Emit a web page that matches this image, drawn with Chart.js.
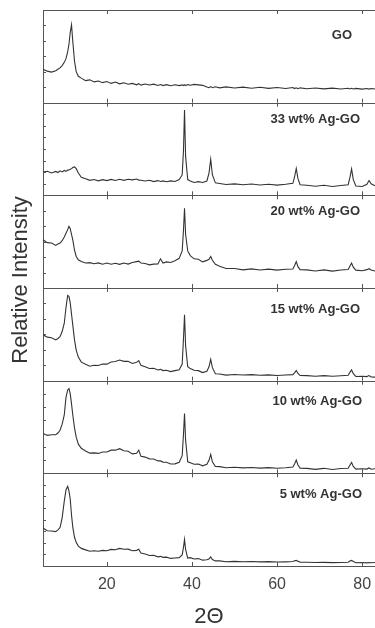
<!DOCTYPE html>
<html>
<head>
<meta charset="utf-8">
<script src="https://cdn.jsdelivr.net/npm/chart.js@4.4.1/dist/chart.umd.min.js"></script>
<style>
  html, body { margin: 0; padding: 0; background: #fff; }
  #wrap { width: 375px; height: 628px; }
</style>
</head>
<body>
<div id="wrap"><canvas id="xrd" width="375" height="628"></canvas></div>
<script>
// 2-theta positions shared by all patterns (denser around the peaks)
const twoTheta = [5, 6, 7, 8, 8.5, 9, 9.5, 10, 10.4, 10.8,
  11.1, 11.4, 11.7, 12, 12.4, 12.8, 13.3, 14, 15, 16,
  17, 18, 19, 20, 21, 22, 23, 24, 25, 26,
  27, 27.5, 28, 29, 30, 31, 32, 32.6, 33.2, 34,
  35, 36, 37, 37.7, 38, 38.25, 38.5, 39, 39.6, 40.5,
  41.5, 42.5, 43.5, 44, 44.4, 44.8, 45.5, 46.5, 48, 50,
  52, 54, 56, 58, 60, 62, 63.7, 64.1, 64.5, 64.9,
  65.4, 67, 69, 71, 73, 75, 76.7, 77.1, 77.5, 77.9,
  78.5, 80, 81.1, 81.6, 82.1, 83];

// relative intensity, each pattern on its own 0-100 panel scale
const go = [36, 34, 33, 34.5, 36, 37.5, 40, 43.5, 47.5, 55,
  63, 76, 84, 66, 45, 33.5, 28.5, 26.5, 23.8, 24.6,
  22.4, 23.4, 21.6, 22.8, 20.8, 22.2, 20.3, 21.4, 19.9, 20.8,
  19.3, 20.5, 18.9, 20.1, 19, 20, 18.5, 19.5, 18.4, 19.4,
  18.3, 19.3, 18.4, 19.2, 18.5, 19.3, 18.4, 19.5, 18.8, 19.7,
  19.2, 18.7, 16.9, 16.2, 17.3, 16.1, 17.1, 16, 17, 15.8,
  16.8, 15.6, 16.6, 15.4, 16.4, 15.3, 16.3, 15.2, 16.1, 15.1,
  16, 15, 15.9, 14.9, 15.7, 14.7, 15.6, 14.8, 15.5, 14.7,
  15.4, 14.6, 15.3, 14.6, 15.2, 14.8];

const ag33 = [25, 26, 24.2, 25.8, 24.6, 26.4, 25.2, 26.8, 25.8, 27.2,
  27.4, 28.2, 28.8, 30, 30.6, 28.8, 24, 19.5, 17.8, 16.2,
  17, 15.6, 16.9, 15.9, 17.2, 16, 17.4, 16.2, 17.3, 16.7,
  17.6, 16.4, 16.2, 15.4, 16.2, 14.8, 15.9, 14.9, 15.6, 14.7,
  15.6, 14.9, 17, 22, 48, 92, 42, 17, 15.5, 13.9,
  14.8, 13.8, 15.5, 24, 39, 22, 13.5, 12.8, 11.7, 12.4,
  11.4, 12.2, 11.2, 12, 11, 11.9, 13, 20, 29, 18,
  11.5, 10.9, 9.8, 10.8, 9.6, 10.6, 11.5, 19, 28.5, 17,
  10, 9.6, 12, 16, 12.5, 10.2];

const ag20 = [52, 49, 48.6, 46, 47.4, 48.5, 51, 55, 59, 63,
  66.5, 64, 58, 52, 41, 34, 30.5, 28.5, 27, 27.4,
  26.2, 27.1, 25.7, 26.9, 25.6, 26.7, 25.5, 26.9, 25.8, 27.5,
  28.5, 29, 27, 26.4, 25, 25.8, 26, 31.5, 27, 28.2,
  27.6, 29.4, 32, 40, 62, 86, 58, 40, 35, 31.5,
  31, 28.2, 29.8, 31, 34, 30, 25.5, 23.4, 21, 21,
  19.6, 20.6, 19.4, 20.4, 19.3, 20.2, 20.5, 24, 28.5, 23,
  19.8, 19.6, 18.4, 19.6, 18.2, 19.4, 20, 23.5, 27, 22.5,
  19.3, 18.6, 19.8, 20.8, 19.4, 18.4];

const ag15 = [49.5, 47, 46.4, 44, 45.5, 47.5, 53, 62, 79, 92,
  91, 84, 72, 60, 44, 33, 25.5, 20, 17.6, 15.6,
  16.6, 16.4, 17.9, 17.8, 20.2, 20.6, 22.2, 20.8, 20.9, 18.6,
  19.8, 21.7, 16.5, 15, 13.1, 13.3, 11.6, 12.2, 10.9, 11.2,
  9.8, 10.8, 11.8, 18, 45, 71, 38, 15, 13, 11.2,
  10.8, 8.7, 10.2, 15, 23, 14, 7.5, 7.2, 6, 6.7,
  6.1, 6.5, 5.8, 6.3, 5.6, 6.1, 6.5, 8.5, 10.9, 7.8,
  5.5, 5.4, 4.8, 5.4, 4.7, 5.3, 5.8, 9, 11.6, 7.5,
  4.5, 4.7, 4.4, 5.5, 4, 3.8];

const ag10 = [43, 41, 41.6, 41.6, 43.5, 46.5, 53, 63, 82, 90,
  91.4, 86, 75, 63, 49, 39, 31.5, 27, 24.2, 21.8,
  22.1, 21.5, 23.1, 23, 25, 25, 26.6, 24.3, 23.9, 21,
  21.6, 25, 18.5, 17.5, 15.6, 15.5, 13.4, 13.4, 12.1, 12,
  10.1, 10.2, 12, 19, 42, 64.5, 36, 12.5, 11.4, 9.8,
  10, 8.1, 9.8, 14, 20.4, 12.5, 7.4, 7.2, 6, 6.5,
  5.9, 6.3, 5.6, 6.2, 5.5, 6, 6.8, 10, 14.3, 9,
  5.6, 5.4, 4.3, 5.4, 4.2, 5.2, 5.5, 8.8, 11.8, 7.5,
  4.6, 4.9, 4.6, 5.8, 4.4, 4.9];

const ag5 = [41, 38, 37.8, 37.1, 39, 41.5, 52, 70, 82, 86,
  81, 72, 55, 42, 31, 25.5, 21.5, 19, 17.4, 16,
  16.4, 15.9, 16.9, 16.5, 17.9, 17.6, 19, 18, 18.2, 16.4,
  16.9, 18, 14, 12.9, 11.4, 11.6, 9.9, 10.4, 9.3, 9.6,
  8.2, 8.6, 9, 12, 20, 28.7, 18, 8.5, 9, 7.6,
  8, 6.3, 6.8, 7.6, 9.7, 7, 5.5, 5.5, 4.6, 5,
  4.6, 4.8, 4.4, 4.7, 4.3, 4.5, 4.8, 5.6, 6, 5.2,
  4.2, 4.1, 3.7, 3.9, 3.6, 3.8, 4, 5.3, 6, 4.8,
  3.5, 3.7, 3.4, 3.8, 3.5, 3.8];

const sampleNames = ['GO', '33 wt% Ag-GO', '20 wt% Ag-GO', '15 wt% Ag-GO', '10 wt% Ag-GO', '5 wt% Ag-GO'];
const patterns = [go, ag33, ag20, ag15, ag10, ag5];
const xTicks = [20, 40, 60, 80];
const yTickDivisions = [6, 8, 6, 6, 7, 8];

// where the sample name sits: px below the panel top, px in from the right edge
const labelTop = [25, 17, 16, 21, 21, 21];
const labelInset = [23, 15, 15, 15, 13, 13];

const FONT = '"Liberation Sans", Arial, sans-serif';
const FRAME = '#555';

// panel scales, built bottom panel first so the stack puts GO on top
const scales = {
  x: {
    type: 'linear', min: 5, max: 83,
    afterBuildTicks: s => { s.ticks = xTicks.map(v => ({ value: v })); },
    afterFit: s => { s.paddingLeft = 0; s.paddingRight = 0; s.height = 62; },
    grid: { display: false, drawTicks: false },
    border: { display: false },
    ticks: { color: '#444', padding: 9, font: { family: FONT, size: 16 } },
    title: { display: true, text: '2Θ', color: '#333', padding: { top: 10, bottom: 0 },
             font: { family: FONT, size: 22, lineHeight: 1 } }
  }
};
for (let i = patterns.length - 1; i >= 0; i--) {
  const n = yTickDivisions[i];
  scales['y' + i] = {
    type: 'linear', position: 'left', stack: 'panels', stackWeight: 1,
    min: 0, max: 100,
    afterBuildTicks: s => {
      const t = [];
      for (let k = 1; k < n; k++) t.push({ value: k * 100 / n });
      s.ticks = t;
    },
    afterFit: s => { s.width = 0; },
    ticks: { display: false },
    grid: { display: false, drawTicks: false },
    border: { display: true, color: FRAME, width: 1 }
  };
}

// frame lines, inward tick marks, sample names and the y title
const panelFrame = {
  id: 'panelFrame',
  afterDraw(chart) {
    const { ctx, chartArea } = chart;
    const xs = chart.scales.x;
    const px = v => Math.round(v) + 0.5;
    ctx.save();
    ctx.strokeStyle = FRAME;
    ctx.lineWidth = 1;
    patterns.forEach((p, i) => {
      const ys = chart.scales['y' + i];
      ctx.beginPath();
      ctx.moveTo(chartArea.left, px(ys.top));
      ctx.lineTo(chartArea.right, px(ys.top));
      ctx.moveTo(chartArea.left, px(ys.bottom));
      ctx.lineTo(chartArea.right, px(ys.bottom));
      xTicks.forEach(v => {
        const x = px(xs.getPixelForValue(v));
        ctx.moveTo(x, ys.top);
        ctx.lineTo(x, ys.top + 4);
        ctx.moveTo(x, ys.bottom);
        ctx.lineTo(x, ys.bottom - 4);
      });
      ys.ticks.forEach(t => {
        const y = px(ys.getPixelForValue(t.value));
        ctx.moveTo(chartArea.left, y);
        ctx.lineTo(chartArea.left + 3, y);
      });
      ctx.stroke();

      ctx.fillStyle = '#333';
      ctx.font = 'bold 13px ' + FONT;
      ctx.textAlign = 'right';
      ctx.textBaseline = 'middle';
      ctx.fillText(sampleNames[i], chartArea.right - labelInset[i], ys.top + labelTop[i]);
    });

    ctx.translate(20.5, (chartArea.top + chartArea.bottom) / 2 - 8);
    ctx.rotate(-Math.PI / 2);
    ctx.fillStyle = '#333';
    ctx.font = '22px ' + FONT;
    ctx.textAlign = 'center';
    ctx.textBaseline = 'middle';
    ctx.fillText('Relative Intensity', 0, 0);
    ctx.restore();
  }
};

new Chart(document.getElementById('xrd'), {
  type: 'line',
  data: {
    labels: twoTheta,
    datasets: patterns.map((p, i) => ({
      label: sampleNames[i],
      data: p,
      yAxisID: 'y' + i,
      borderColor: '#333',
      borderWidth: 1.1,
      pointRadius: 0,
      tension: 0
    }))
  },
  options: {
    responsive: false,
    animation: false,
    layout: { padding: { top: 10, left: 43, right: 0, bottom: 0 } },
    plugins: { legend: { display: false }, tooltip: { enabled: false } },
    scales
  },
  plugins: [panelFrame]
});
</script>
</body>
</html>
